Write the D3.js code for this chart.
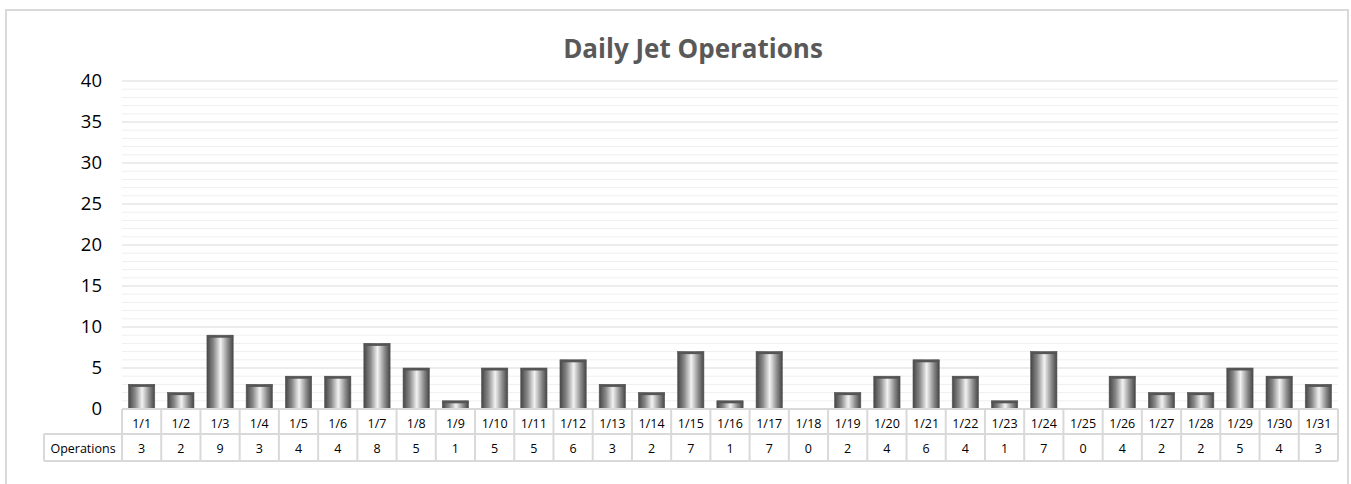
<!DOCTYPE html>
<html>
<head>
<meta charset="utf-8">
<script src="https://cdn.jsdelivr.net/npm/d3@7"></script>
<style>
  body { margin: 0; background: #fff; }
  text { font-family: "Open Sans", "Noto Sans", sans-serif; }
</style>
</head>
<body>
<script>
// Chart data
var days = ["1/1","1/2","1/3","1/4","1/5","1/6","1/7","1/8","1/9","1/10","1/11","1/12","1/13","1/14","1/15","1/16",
  "1/17","1/18","1/19","1/20","1/21","1/22","1/23","1/24","1/25","1/26","1/27","1/28","1/29","1/30","1/31"];
var operations = [3,2,9,3,4,4,8,5,1,5,5,6,3,2,7,1,7,0,2,4,6,4,1,7,0,4,2,2,5,4,3];
var yTicks = [0,5,10,15,20,25,30,35,40];
var seriesName = "Operations";
var chartTitle = "Daily Jet Operations";

var svgWidth = 1351;
var svgHeight = 484;
var margin = { top: 81, right: 13, bottom: 75, left: 122 };
var width = svgWidth - margin.left - margin.right;
var height = 409 - margin.top;

var svg = d3.select("body")
  .append("svg")
  .attr("width", svgWidth)
  .attr("height", svgHeight);

// Chart frame
svg.append("rect")
  .attr("x", 6).attr("y", 10)
  .attr("width", 1342).attr("height", 500)
  .attr("fill", "#fff")
  .attr("stroke", "#d9d9d9")
  .attr("stroke-width", 2);

// Gradient for cylinder-like bars
var defs = svg.append("defs");
var grad = defs.append("linearGradient")
  .attr("id", "barGrad")
  .attr("x1", "0%").attr("x2", "100%").attr("y1", "0%").attr("y2", "0%");
grad.append("stop").attr("offset", "0%").attr("stop-color", "#454545");
grad.append("stop").attr("offset", "25%").attr("stop-color", "#888");
grad.append("stop").attr("offset", "52%").attr("stop-color", "#f2f2f2");
grad.append("stop").attr("offset", "80%").attr("stop-color", "#888");
grad.append("stop").attr("offset", "100%").attr("stop-color", "#454545");

var chartGroup = svg.append("g")
  .attr("transform", `translate(${margin.left}, ${margin.top})`);

// Scales
var xScale = d3.scaleBand()
  .domain(days)
  .range([0, width])
  .paddingInner(0.33)
  .paddingOuter(0.165);

var yScale = d3.scaleLinear()
  .domain([0, 40])
  .range([height, 0]);

// Minor gridlines
chartGroup.append("g")
  .selectAll("line")
  .data(d3.range(0, 41).filter(d => d % 5 !== 0))
  .enter()
  .append("line")
  .attr("x1", 0).attr("x2", width)
  .attr("y1", d => yScale(d)).attr("y2", d => yScale(d))
  .attr("stroke", "#efefef")
  .attr("stroke-width", 1);

// Major gridlines
chartGroup.append("g")
  .selectAll("line")
  .data(yTicks.filter(d => d > 0))
  .enter()
  .append("line")
  .attr("x1", 0).attr("x2", width)
  .attr("y1", d => yScale(d)).attr("y2", d => yScale(d))
  .attr("stroke", "#d9d9d9")
  .attr("stroke-width", 1);

// Left axis (labels only)
var leftAxis = d3.axisLeft(yScale)
  .tickValues(yTicks)
  .tickSize(0)
  .tickPadding(20);

var yAxisG = chartGroup.append("g").call(leftAxis);
yAxisG.select(".domain").remove();
yAxisG.selectAll("text")
  .style("font-size", "18.5px")
  .attr("fill", "#000");

// Bars
var bars = chartGroup.append("g")
  .selectAll("g")
  .data(operations)
  .enter()
  .append("g")
  .attr("transform", (d, i) => `translate(${xScale(days[i])}, 0)`);

bars.filter(d => d > 0)
  .append("rect")
  .attr("x", 0)
  .attr("y", d => yScale(d))
  .attr("width", xScale.bandwidth())
  .attr("height", d => yScale(0) - yScale(d))
  .attr("fill", "url(#barGrad)")
  .attr("stroke", "#5a5a5a")
  .attr("stroke-width", 0.6);

// Dark cap on top of each bar
bars.filter(d => d > 0)
  .append("rect")
  .attr("x", 0)
  .attr("y", d => yScale(d))
  .attr("width", xScale.bandwidth())
  .attr("height", 2.5)
  .attr("fill", "#555");

// Data table under the chart
var step = xScale.step();
var row1Top = height;
var row1Bottom = height + 25;
var row2Bottom = height + 52;
var tableG = chartGroup.append("g");
var lineColor = "#d9d9d9";

// horizontal lines
tableG.append("line")
  .attr("x1", 0).attr("x2", width)
  .attr("y1", row1Top).attr("y2", row1Top)
  .attr("stroke", lineColor).attr("stroke-width", 2);
tableG.append("line")
  .attr("x1", -78).attr("x2", width)
  .attr("y1", row1Bottom).attr("y2", row1Bottom)
  .attr("stroke", lineColor).attr("stroke-width", 2);
tableG.append("line")
  .attr("x1", -78).attr("x2", width)
  .attr("y1", row2Bottom).attr("y2", row2Bottom)
  .attr("stroke", lineColor).attr("stroke-width", 2);
tableG.append("line")
  .attr("x1", -78).attr("x2", -78)
  .attr("y1", row1Bottom).attr("y2", row2Bottom)
  .attr("stroke", lineColor).attr("stroke-width", 2);

// vertical lines
tableG.selectAll("line.v")
  .data(d3.range(0, days.length + 1))
  .enter()
  .append("line")
  .attr("class", "v")
  .attr("x1", d => d * step).attr("x2", d => d * step)
  .attr("y1", row1Top).attr("y2", row2Bottom)
  .attr("stroke", lineColor).attr("stroke-width", 2);

// category labels
tableG.selectAll("text.cat")
  .data(days)
  .enter()
  .append("text")
  .attr("class", "cat")
  .attr("x", d => xScale(d) + xScale.bandwidth() / 2)
  .attr("y", row1Top + 18.5)
  .attr("text-anchor", "middle")
  .style("font-size", "12.5px")
  .attr("fill", "#000")
  .text(d => d);

// values
tableG.selectAll("text.val")
  .data(operations)
  .enter()
  .append("text")
  .attr("class", "val")
  .attr("x", (d, i) => xScale(days[i]) + xScale.bandwidth() / 2)
  .attr("y", row1Bottom + 18.5)
  .attr("text-anchor", "middle")
  .style("font-size", "12.5px")
  .attr("fill", "#000")
  .text(d => d);

tableG.append("text")
  .attr("x", -39)
  .attr("y", row1Bottom + 18.5)
  .attr("text-anchor", "middle")
  .style("font-size", "12.5px")
  .attr("fill", "#000")
  .text(seriesName);

// Title
svg.append("text")
  .attr("x", 693)
  .attr("y", 58)
  .attr("text-anchor", "middle")
  .style("font-size", "26px")
  .style("font-weight", "bold")
  .attr("fill", "#595959")
  .text(chartTitle);
</script>
</body>
</html>
